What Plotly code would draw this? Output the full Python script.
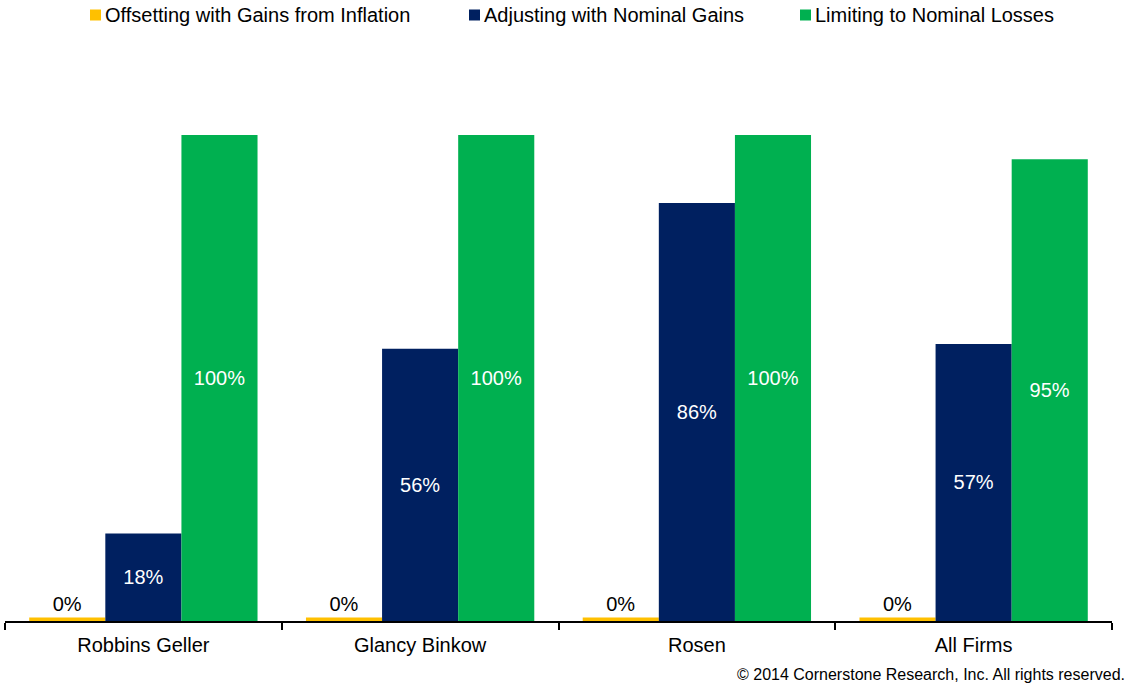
import plotly.graph_objects as go

categories = ["Robbins Geller", "Glancy Binkow", "Rosen", "All Firms"]
series_names = ["Offsetting with Gains from Inflation",
                "Adjusting with Nominal Gains",
                "Limiting to Nominal Losses"]
offsetting = [0.7, 0.7, 0.7, 0.7]
adjusting = [18, 56, 86, 57]
limiting = [100, 100, 100, 95]
offsetting_labels = ["0%", "0%", "0%", "0%"]
adjusting_labels = ["18%", "56%", "86%", "57%"]
limiting_labels = ["100%", "100%", "100%", "95%"]
colors = ["#FFC000", "#002060", "#00B050"]

FONT = "Liberation Sans, Arial, sans-serif"
W, H = 1128, 684
L, R, T, B = 5, 16, 80, 63
PW, PH = W - L - R, H - T - B

def px_x(px):
    return (px - L) / PW

def px_y(py):
    return (H - B - py) / PH

fig = go.Figure()
fig.add_trace(go.Bar(x=categories, y=offsetting, name=series_names[0],
                     marker_color=colors[0], text=offsetting_labels,
                     textposition="outside", cliponaxis=False,
                     textfont=dict(color="#000000", size=20, family=FONT)))
fig.add_trace(go.Bar(x=categories, y=adjusting, name=series_names[1],
                     marker_color=colors[1], text=adjusting_labels,
                     textposition="inside", insidetextanchor="middle",
                     textfont=dict(color="#FFFFFF", size=20, family=FONT)))
fig.add_trace(go.Bar(x=categories, y=limiting, name=series_names[2],
                     marker_color=colors[2], text=limiting_labels,
                     textposition="inside", insidetextanchor="middle",
                     textfont=dict(color="#FFFFFF", size=20, family=FONT)))
fig.update_traces(marker_line_width=0, hoverinfo="skip")

ymax = 100 * PH / (621 - 135)

fig.update_layout(
    width=W, height=H,
    margin=dict(l=L, r=R, t=T, b=B),
    paper_bgcolor="white", plot_bgcolor="white",
    barmode="group", bargap=0.175, bargroupgap=0,
    showlegend=False,
    uniformtext=dict(mode=False),
    font=dict(family=FONT, size=20, color="#000000"),
    xaxis=dict(showline=True, linecolor="#000000", linewidth=1.5,
               ticks="outside", tickson="boundaries", ticklen=7,
               tickcolor="#000000", tickwidth=1.5, ticklabelstandoff=5,
               tickfont=dict(size=20, family=FONT, color="#000000"),
               range=[-0.5, 3.5], showgrid=False, zeroline=False,
               automargin=False),
    yaxis=dict(visible=False, range=[0, ymax], showgrid=False, zeroline=False),
)

# legend drawn manually to match the original spacing
legend_sq = [(90, 101), (469, 480), (800, 811)]
legend_y = 15
for name, col, (x0, x1) in zip(series_names, colors, legend_sq):
    fig.add_shape(type="rect", xref="paper", yref="paper",
                  x0=px_x(x0), x1=px_x(x1),
                  y0=px_y(legend_y + 5.5), y1=px_y(legend_y - 5.5),
                  fillcolor=col, line_width=0)
    fig.add_annotation(xref="paper", yref="paper", x=px_x(x1 + 2), y=px_y(legend_y),
                       text=name, showarrow=False, xanchor="left", yanchor="middle",
                       font=dict(size=20, family=FONT, color="#000000"))

fig.add_annotation(xref="paper", yref="paper", x=px_x(1127), y=px_y(674),
                   text="© 2014 Cornerstone Research, Inc. All rights reserved.",
                   showarrow=False, xanchor="right", yanchor="middle",
                   font=dict(size=16, family=FONT, color="#000000"))

fig.write_html("out.html", config={"displayModeBar": False},
               post_script="document.body.style.margin='0';document.body.style.padding='0';")
